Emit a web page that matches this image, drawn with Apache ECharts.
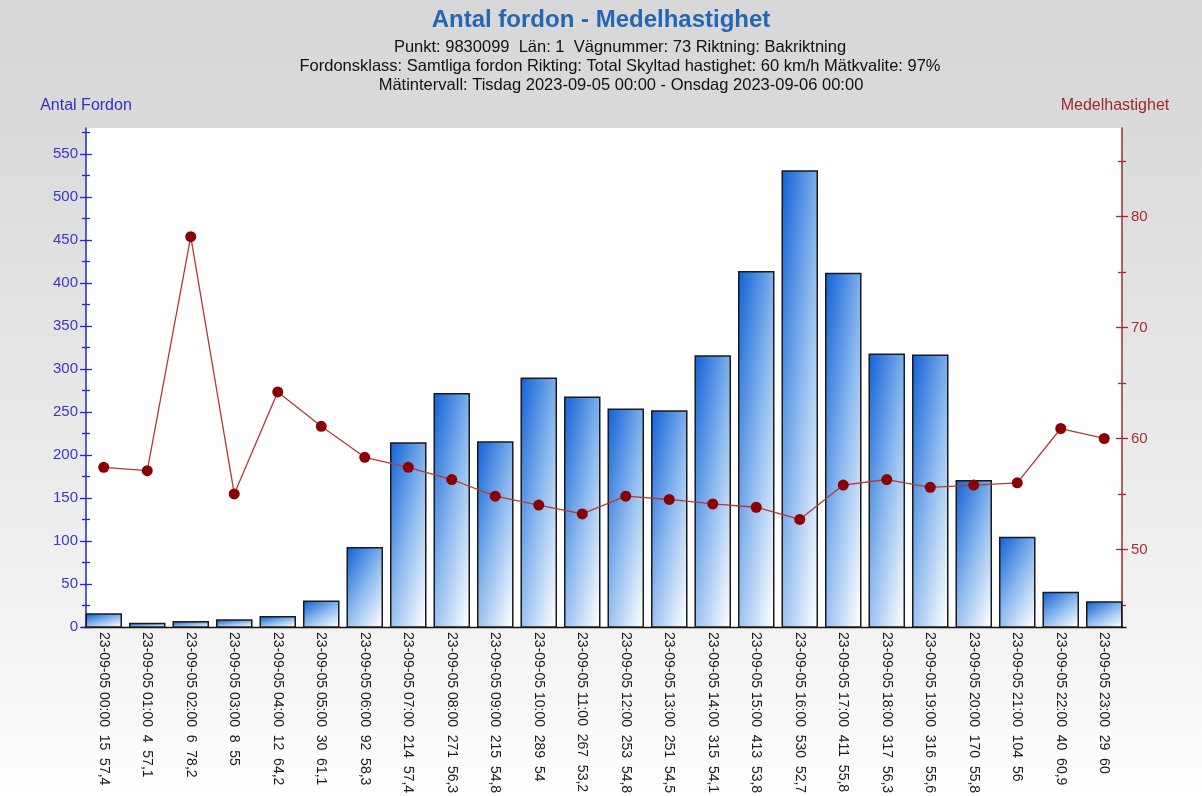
<!DOCTYPE html>
<html>
<head>
<meta charset="utf-8">
<script src="https://cdn.jsdelivr.net/npm/echarts@6/dist/echarts.min.js"></script>
<style>html,body{margin:0;padding:0;background:#fff;}#c{width:1202px;height:796px;}</style>
</head>
<body>
<div id="c"></div>
<script>
// ---------- data ----------
const hours = ['00:00','01:00','02:00','03:00','04:00','05:00','06:00','07:00','08:00','09:00','10:00','11:00',
               '12:00','13:00','14:00','15:00','16:00','17:00','18:00','19:00','20:00','21:00','22:00','23:00'];
const categories = hours.map(h => '23-09-05 ' + h);
const antalFordon = [15,4,6,8,12,30,92,214,271,215,289,267,253,251,315,413,530,411,317,316,170,104,40,29];
const medelhastighet = [57.4,57.1,78.2,55,64.2,61.1,58.3,57.4,56.3,54.8,54,53.2,54.8,54.5,54.1,53.8,52.7,55.8,56.3,55.6,55.8,56,60.9,60];
const leftTicks = [0,50,100,150,200,250,300,350,400,450,500,550];
const leftMinorTicks = [25,75,125,175,225,275,325,375,425,475,525,575];
const rightTicks = [50,60,70,80];
const rightMinorTicks = [45,55,65,75,85];
const titleText = 'Antal fordon - Medelhastighet';
const subLines = [
  'Punkt: 9830099  Län: 1  Vägnummer: 73 Riktning: Bakriktning',
  'Fordonsklass: Samtliga fordon Rikting: Total Skyltad hastighet: 60 km/h Mätkvalite: 97%',
  'Mätintervall: Tisdag 2023-09-05 00:00 - Onsdag 2023-09-06 00:00'
];
const leftName = 'Antal Fordon';
const rightName = 'Medelhastighet';

// ---------- styling ----------
const FF = 'Liberation Sans, Arial, sans-serif';
const BLUE_AX = '#2424d8', BLUE_LB = '#3a36c6';
const RED_AX = '#a4282c', RED_LB = '#a52f33';
const fmt = v => String(v).replace('.', ',');

const chart = echarts.init(document.getElementById('c'), null, {renderer: 'canvas'});

function renderBar(params, api) {
  const idx = api.value(0);
  const val = api.value(1);
  const top = api.coord([idx, val]);
  const base = api.coord([idx, 0]);
  const bw = api.size([1, 0])[0] * 0.805;
  const x = top[0] - bw / 2;
  const h = Math.max(base[1] - top[1], 0.01);
  return {
    type: 'group',
    children: [
      {
        type: 'rect', x: x, y: top[1], scaleX: bw, scaleY: h,
        shape: {x: 0, y: 0, width: 1, height: 1},
        style: {
          fill: {type: 'linear', x: 0, y: 0, x2: 0.85, y2: 1.1, global: false,
                 colorStops: [{offset: 0, color: '#1262d6'}, {offset: 0.5, color: '#8ab8ee'}, {offset: 1, color: '#ffffff'}]}
        }
      },
      {
        type: 'rect', shape: {x: x, y: top[1], width: bw, height: h},
        style: {fill: null, stroke: '#1a1a1a', lineWidth: 1.5}
      }
    ]
  };
}

function tickAxis(pos, min, max, offset, len, values, color) {
  return {
    type: 'value', position: pos, min: min, max: max, offset: offset,
    axisLine: {show: false}, splitLine: {show: false}, axisLabel: {show: false},
    axisTick: {show: true, inside: false, length: len, customValues: values, lineStyle: {color: color, width: 1.3}}
  };
}

const subStyle = {fontSize: 16.5, fontWeight: 'normal', color: '#111', fontFamily: FF};

const option = {
  backgroundColor: {type: 'linear', x: 0, y: 0, x2: 0, y2: 1,
    colorStops: [{offset: 0, color: '#d7d7d7'}, {offset: 0.16, color: '#dadada'}, {offset: 0.8, color: '#f3f3f3'}, {offset: 1, color: '#ffffff'}]},
  animation: false,
  title: [
    {text: titleText, left: 'center', top: 8, padding: 0,
     textStyle: {fontSize: 24, fontWeight: 'bold', color: '#2266b5', fontFamily: FF}},
    {text: subLines[0], left: 620, textAlign: 'center', top: 39, padding: 0, textStyle: subStyle},
    {text: subLines[1], left: 620, textAlign: 'center', top: 58, padding: 0, textStyle: subStyle},
    {text: subLines[2], left: 621, textAlign: 'center', top: 77, padding: 0, textStyle: subStyle}
  ],
  graphic: [{type: 'rect', z: -10, shape: {x: 86, y: 128, width: 1036, height: 499}, style: {fill: '#ffffff'}}],
  grid: {left: 82, right: 76, top: 128, bottom: 169, containLabel: false, outerBoundsMode: 'none'},
  xAxis: {
    type: 'category', data: categories, boundaryGap: true,
    axisLine: {onZero: false, lineStyle: {color: '#111', width: 1.3}},
    axisTick: {alignWithLabel: true, length: 5, lineStyle: {color: '#111', width: 1.2}},
    axisLabel: {rotate: -90, interval: 0, margin: 5, fontSize: 14, color: '#1a1a1a', fontFamily: FF,
      formatter: (v, i) => v + '  ' + antalFordon[i] + '  ' + fmt(medelhastighet[i])},
    splitLine: {show: false}
  },
  yAxis: [
    {
      type: 'value', position: 'left', min: 0, max: 580, offset: -4,
      name: leftName, nameLocation: 'end', nameGap: 14,
      nameTextStyle: {fontSize: 16, color: '#3030c8', fontFamily: FF},
      axisLine: {show: true, lineStyle: {color: BLUE_AX, width: 1.5}},
      axisTick: {show: false},
      axisLabel: {show: true, margin: 8, fontSize: 15, color: BLUE_LB, fontFamily: FF, customValues: leftTicks},
      splitLine: {show: false}
    },
    tickAxis('left', 0, 580, -10, 12, leftTicks, BLUE_AX),
    tickAxis('left', 0, 580, -8, 8, leftMinorTicks, BLUE_AX),
    {
      type: 'value', position: 'right', min: 43, max: 88, offset: -4,
      name: rightName, nameLocation: 'end', nameGap: 14,
      nameTextStyle: {fontSize: 16, color: '#a0282d', fontFamily: FF, padding: [0, 14, 0, 0]},
      axisLine: {show: true, lineStyle: {color: RED_AX, width: 1.5}},
      axisTick: {show: false},
      axisLabel: {show: true, margin: 9, fontSize: 15, color: RED_LB, fontFamily: FF, customValues: rightTicks},
      splitLine: {show: false}
    },
    tickAxis('right', 43, 88, -10, 12, rightTicks, RED_AX),
    tickAxis('right', 43, 88, -8, 8, rightMinorTicks, RED_AX)
  ],
  series: [
    {
      type: 'custom', name: leftName, xAxisIndex: 0, yAxisIndex: 0,
      data: antalFordon.map((v, i) => [i, v]),
      encode: {x: 0, y: 1},
      renderItem: renderBar, z: 2
    },
    {
      type: 'line', name: rightName, yAxisIndex: 3, data: medelhastighet,
      symbol: 'circle', symbolSize: 11, showAllSymbol: true,
      lineStyle: {color: '#b03a3a', width: 1.3},
      itemStyle: {color: '#8b0000'}, z: 5
    }
  ]
};
chart.setOption(option);
</script>
</body>
</html>
